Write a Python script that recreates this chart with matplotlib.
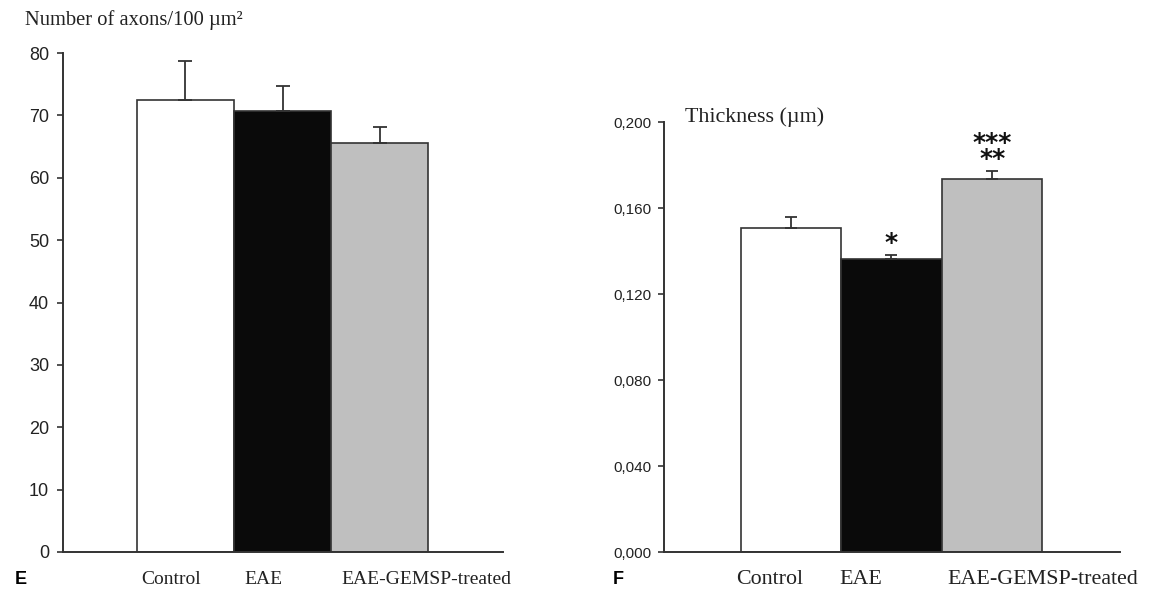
import matplotlib.pyplot as plt

# ---- data ----
groups = ["Control", "EAE", "EAE-GEMSP-treated"]
bar_colors = ["#ffffff", "#0a0a0a", "#bfbfbf"]

axon_mean = [72.5, 70.75, 65.6]
axon_err = [6.2, 3.95, 2.5]

thick_mean = [0.1507, 0.1363, 0.1735]
thick_err = [0.0051, 0.0018, 0.0037]
thick_stars = ["", "*", "***\n**"]

# label x positions (bar units) as they sit under each panel
label_pos_e = [-0.15, 0.80, 2.48]
label_pos_f = [-0.21, 0.69, 2.50]

serif = "Liberation Serif"
sans = "Liberation Sans"
edge = "#333333"

fig = plt.figure(figsize=(11.49, 5.90), dpi=100)
ax_e = fig.add_axes([63 / 1149, 38 / 590, 440 / 1149, 499 / 590])
ax_f = fig.add_axes([664 / 1149, 38 / 590, 456 / 1149, 430 / 590])

x = range(len(groups))


def style_axis(ax, tick_size, pad):
    for side in ["top", "right"]:
        ax.spines[side].set_visible(False)
    for side in ["left", "bottom"]:
        ax.spines[side].set_color(edge)
        ax.spines[side].set_linewidth(1.4)
    ax.tick_params(axis="y", direction="out", length=4, width=1.2,
                   color=edge, pad=pad)
    ax.tick_params(axis="x", length=0)
    ax.set_xticks([])
    for lbl in ax.get_yticklabels():
        lbl.set_fontfamily(sans)
        lbl.set_fontsize(tick_size)
        lbl.set_color("#222222")
    ax.set_xlim(-1.26, 3.27)


# ---- panel E ----
ax_e.bar(x, axon_mean, width=1.0, color=bar_colors, edgecolor=edge,
         linewidth=1.2, zorder=2)
ax_e.errorbar(x, axon_mean, yerr=[[0, 0, 0], axon_err], fmt="none",
              ecolor=edge, elinewidth=1.3, capsize=5, capthick=1.3, zorder=3)
ax_e.set_ylim(0, 80)
ax_e.set_yticks(range(0, 81, 10))
style_axis(ax_e, 13, 6)
for pos, name in zip(label_pos_e, groups):
    ax_e.annotate(name, xy=(pos, 0), xytext=(0, -20), textcoords="offset points",
                  ha="center", va="center", fontfamily=serif, fontsize=14,
                  color="#222222", annotation_clip=False)

# ---- panel F ----
ax_f.bar(x, thick_mean, width=1.0, color=bar_colors, edgecolor=edge,
         linewidth=1.2, zorder=2)
ax_f.errorbar(x, thick_mean, yerr=[[0, 0, 0], thick_err], fmt="none",
              ecolor=edge, elinewidth=1.3, capsize=4.5, capthick=1.3, zorder=3)
ax_f.set_ylim(0, 0.2)
ax_f.set_yticks([0, 0.04, 0.08, 0.12, 0.16, 0.2])
ax_f.set_yticklabels([f"{v:.3f}".replace(".", ",") for v in ax_f.get_yticks()])
style_axis(ax_f, 11, 5)
for pos, name in zip(label_pos_f, groups):
    ax_f.annotate(name, xy=(pos, 0), xytext=(0, -20), textcoords="offset points",
                  ha="center", va="center", fontfamily=serif, fontsize=15.8,
                  color="#222222", annotation_clip=False)

for i, stars in enumerate(thick_stars):
    if stars:
        top = thick_mean[i] + thick_err[i]
        ax_f.annotate(stars, xy=(i, top), xytext=(0, 0), textcoords="offset points",
                      ha="center", va="bottom", fontfamily="DejaVu Sans",
                      fontweight="bold", fontsize=18, linespacing=0.6,
                      color="#111111")

# ---- titles and panel letters ----
fig.text(25 / 1149, 1 - 20 / 590, "Number of axons/100 µm²", fontfamily=serif,
         fontsize=14.8, ha="left", va="center", color="#222222")
fig.text(685 / 1149, 1 - 117 / 590, "Thickness (µm)", fontfamily=serif,
         fontsize=15.8, ha="left", va="center", color="#222222")
fig.text(21 / 1149, 1 - 580 / 590, "E", fontfamily=sans, fontweight="bold",
         fontsize=13, ha="center", va="center")
fig.text(618 / 1149, 1 - 580 / 590, "F", fontfamily=sans, fontweight="bold",
         fontsize=13, ha="center", va="center")

fig.savefig("out.png", dpi=100, facecolor="white")
